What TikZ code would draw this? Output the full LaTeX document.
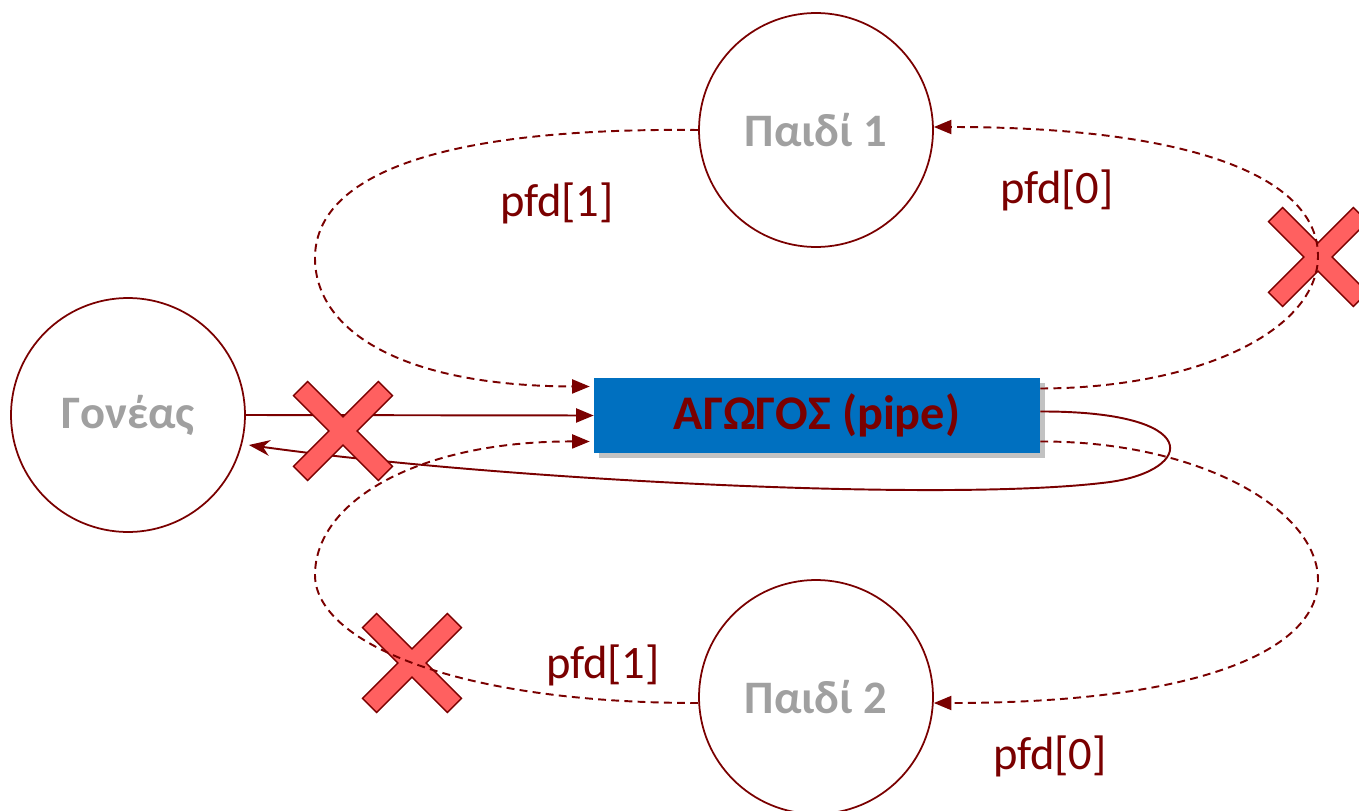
\documentclass[tikz,border=0pt]{standalone}
\usepackage{fontspec}
\setmainfont{Carlito}
\usepackage{tikz}
\usetikzlibrary{calc,shadows,arrows.meta}

\definecolor{darkred}{RGB}{122,0,0}
\definecolor{pipeblue}{RGB}{0,112,192}
\definecolor{crossred}{RGB}{255,96,96}
\definecolor{procgray}{RGB}{160,160,160}

\tikzset{
	proc/.style={circle,draw=darkred,line width=1pt,minimum size=4.68cm,inner sep=0pt,
		text=procgray,font=\fontsize{26.5}{32}\selectfont\bfseries},
	pipebox/.style={rectangle,fill=pipeblue,minimum width=8.92cm,minimum height=1.5cm,
		text=darkred,font=\fontsize{27.5}{32}\selectfont\bfseries,
		drop shadow={shadow xshift=3pt,shadow yshift=-3pt,opacity=0.4,fill=black!60}},
	lbl/.style={text=darkred,font=\fontsize{26.5}{32}\selectfont},
	fdline/.style={darkred,line width=1.1pt,dash pattern=on 4.5pt off 3pt,-{Triangle[length=10pt,width=8pt]}},
	wrline/.style={darkred,line width=1.1pt},
	crossx/.style={fill=crossred,draw=darkred,line width=0.8pt}
}

\begin{document}
\begin{tikzpicture}[x=0.02cm,y=-0.02cm]
	\useasboundingbox (0,0) rectangle (1359,811);

	%processes
	\node[proc] (parent) at (128,415) {Γονέας};
	\node[proc] (child1) at (816,130) {Παιδί 1};
	\node[proc] (child2) at (816,697) {Παιδί 2};
	\node[pipebox] (pipe) at (817,415.5) {ΑΓΩΓΟΣ (pipe)};

	%parent lines
	\draw[wrline,-{Triangle[length=10pt,width=8pt]}] (parent.east) -- (pipe.west);
	\draw[wrline,-{Stealth[length=12pt,width=9pt]}] ($(pipe.east)+(0,-4)$) .. controls (1205,411) and (1195,470) .. (1110,482) .. controls (950,503) and (500,480) .. ($(parent.east)+(3,30)$);

	%crosses
	\foreach \cx/\cy in {1318/257, 343/431, 412/663}{
		\begin{scope}[shift={(\cx,\cy)},rotate=45]
			\filldraw[crossx] (60,-10)--(60,10)--(10,10)--(10,60)--(-10,60)--(-10,10)--(-60,10)--(-60,-10)--(-10,-10)--(-10,-60)--(10,-60)--(10,-10)--cycle;
		\end{scope}
	}

	%child 1
	\draw[fdline] (child1.west) .. controls (400,127) and (315,190) .. (315,258) .. controls (315,330) and (400,386) .. ($(pipe.west)+(-4,-29)$);
	\draw[fdline] ($(pipe.east)+(0,-27)$) .. controls (1200,388) and (1318,330) .. (1318,256) .. controls (1318,180) and (1200,127) .. ([yshift=0.06cm]child1.east);
	%
	%child 2
	\draw[fdline] ($(pipe.east)+(0,26)$) .. controls (1200,441) and (1318,510) .. (1318,580) .. controls (1318,650) and (1200,703) .. ([yshift=-0.12cm]child2.east);
	\draw[fdline] ([yshift=-0.12cm]child2.west) .. controls (450,703) and (315,640) .. (315,575) .. controls (315,500) and (420,441) .. ($(pipe.west)+(-4,26)$);

	%labels
	\node[lbl] (fd1a) at (557,203) {pfd[1]};
	\node[lbl] (fd0a) at (1057,190) {pfd[0]};
	\node[lbl] (fd1b) at (603,665) {pfd[1]};
	\node[lbl] (fd0b) at (1050,756) {pfd[0]};
\end{tikzpicture}
\end{document}
